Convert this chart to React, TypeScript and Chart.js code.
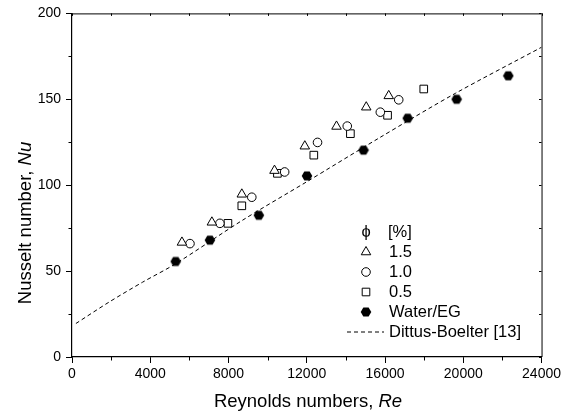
import React, { useEffect, useRef } from "react";
import { Chart, registerables } from "chart.js";
Chart.register(...registerables);

// ---- data ----
const re15 = [5620, 7150, 8680, 10350, 11900, 13520, 15040, 16190];
const nu15 = [66.7, 78.4, 94.7, 108.5, 122.7, 134.2, 145.4, 152];
const re10 = [6030, 7560, 9190, 10870, 12550, 14070, 15760, 16700];
const nu10 = [66, 77.8, 93, 107.7, 124.9, 134.4, 142.5, 149.7];
const re05 = [7970, 8680, 10500, 12360, 14230, 16130, 17980];
const nu05 = [77.8, 88, 106.9, 117.5, 130, 140.7, 156];
const reWater = [5300, 7050, 9550, 12010, 14900, 17160, 19660, 22300];
const nuWater = [55.6, 68, 82.5, 105.4, 120.4, 139, 150, 163.7];
const reDittus = [200, 1900, 3600, 5300, 8700, 12000, 15700, 19600, 24000];
const nuDittus = [19.5, 32, 43.5, 54.3, 79.5, 102, 127.5, 153.5, 180.3];

const xTicks = [0, 4000, 8000, 12000, 16000, 20000, 24000];
const xMinor = [2000, 6000, 10000, 14000, 18000, 22000];
const yTicks = [0, 50, 100, 150, 200];
const yMinor = [25, 75, 125, 175];
const legendHeader = ["\u03D5", "[%]"];
const legendLabels = ["1.5", "1.0", "0.5", "Water/EG", "Dittus-Boelter [13]"];
const xTitle = ["Reynolds numbers, ", "Re"];
const yTitle = ["Nusselt number, ", "Nu"];

const FONT = "Arial, 'Liberation Sans', sans-serif";
const TITLE_PX = 18.5;
const LEGEND_PX = 16.5;
const TICK_PX = 14;

function pts(xs: number[], ys: number[]) {
  return xs.map((x, i) => ({ x, y: ys[i] }));
}

function hexPath(ctx: CanvasRenderingContext2D, cx: number, cy: number, r: number) {
  ctx.beginPath();
  for (let i = 0; i < 6; i++) {
    const a = (Math.PI / 3) * i;
    const px = cx + r * Math.cos(a);
    const py = cy + r * Math.sin(a);
    if (i === 0) ctx.moveTo(px, py);
    else ctx.lineTo(px, py);
  }
  ctx.closePath();
}

function drawSymbol(ctx: CanvasRenderingContext2D, kind: string, x: number, y: number) {
  ctx.save();
  ctx.strokeStyle = "#000";
  ctx.fillStyle = "#fff";
  ctx.lineWidth = 1;
  if (kind === "tri") {
    const r = 5.5;
    ctx.beginPath();
    ctx.moveTo(x, y - r);
    ctx.lineTo(x + r * Math.sin(Math.PI / 3), y + r / 2);
    ctx.lineTo(x - r * Math.sin(Math.PI / 3), y + r / 2);
    ctx.closePath();
    ctx.fill();
    ctx.stroke();
  } else if (kind === "circ") {
    ctx.beginPath();
    ctx.arc(x, y, 4.3, 0, Math.PI * 2);
    ctx.fill();
    ctx.stroke();
  } else if (kind === "sq") {
    ctx.beginPath();
    ctx.rect(x - 3.8, y - 3.8, 7.6, 7.6);
    ctx.fill();
    ctx.stroke();
  } else if (kind === "hex") {
    ctx.fillStyle = "#000";
    hexPath(ctx, x, y, 5.3);
    ctx.fill();
  } else if (kind === "dash") {
    ctx.setLineDash([4, 3]);
    ctx.beginPath();
    ctx.moveTo(347, y);
    ctx.lineTo(384, y);
    ctx.stroke();
  }
  ctx.restore();
}

const decorPlugin = {
  id: "decor",
  afterDraw(chart: any) {
    const ctx: CanvasRenderingContext2D = chart.ctx;
    const { left, right, top, bottom } = chart.chartArea;
    const xs = chart.scales.x;
    const ys = chart.scales.y;
    ctx.save();
    ctx.strokeStyle = "#000";
    ctx.lineWidth = 1;
    // frame top and right
    ctx.beginPath();
    ctx.moveTo(left, top + 0.5);
    ctx.lineTo(right, top + 0.5);
    ctx.moveTo(right + 0.5, top);
    ctx.lineTo(right + 0.5, bottom);
    ctx.stroke();
    // minor ticks bottom / left (outward)
    ctx.beginPath();
    xMinor.forEach((v) => {
      const px = Math.round(xs.getPixelForValue(v)) + 0.5;
      ctx.moveTo(px, bottom);
      ctx.lineTo(px, bottom + 3.5);
    });
    yMinor.forEach((v) => {
      const py = Math.round(ys.getPixelForValue(v)) + 0.5;
      ctx.moveTo(left, py);
      ctx.lineTo(left - 3.5, py);
    });
    // inward ticks on top and right
    [...xTicks, ...xMinor].forEach((v) => {
      const px = Math.round(xs.getPixelForValue(v)) + 0.5;
      ctx.moveTo(px, top);
      ctx.lineTo(px, top + 2.5);
    });
    [...yTicks, ...yMinor].forEach((v) => {
      const py = Math.round(ys.getPixelForValue(v)) + 0.5;
      ctx.moveTo(right, py);
      ctx.lineTo(right - 2.5, py);
    });
    ctx.stroke();

    // axis titles with italic symbol
    ctx.fillStyle = "#000";
    ctx.textBaseline = "middle";
    const normal = TITLE_PX + "px " + FONT;
    const italic = "italic " + TITLE_PX + "px " + FONT;
    ctx.font = normal;
    const xw1 = ctx.measureText(xTitle[0]).width;
    ctx.font = italic;
    const xw2 = ctx.measureText(xTitle[1]).width;
    const xcx = 308;
    const sx = xcx - (xw1 + xw2) / 2;
    ctx.textAlign = "left";
    ctx.font = normal;
    ctx.fillText(xTitle[0], sx, 402);
    ctx.font = italic;
    ctx.fillText(xTitle[1], sx + xw1, 402);

    ctx.save();
    ctx.translate(26, 223);
    ctx.rotate(-Math.PI / 2);
    ctx.font = normal;
    const yw1 = ctx.measureText(yTitle[0]).width;
    ctx.font = italic;
    const yw2 = ctx.measureText(yTitle[1]).width;
    const sy = -(yw1 + yw2) / 2;
    ctx.font = normal;
    ctx.fillText(yTitle[0], sy, 0);
    ctx.font = italic;
    ctx.fillText(yTitle[1], sy + yw1, 0);
    ctx.restore();

    // legend
    const rowY = [232, 252, 272, 292, 312, 332];
    const symX = 366;
    const txtX = 389;
    const lfont = LEGEND_PX + "px " + FONT;
    ctx.font = lfont;
    ctx.textAlign = "center";
    ctx.fillText(legendHeader[0], symX, rowY[0]);
    ctx.textAlign = "left";
    ctx.fillText(legendHeader[1], txtX - 1, rowY[0]);
    const kinds = ["tri", "circ", "sq", "hex", "dash"];
    legendLabels.forEach((lab, i) => {
      drawSymbol(ctx, kinds[i], symX, rowY[i + 1]);
      ctx.fillStyle = "#000";
      ctx.font = lfont;
      ctx.textAlign = "left";
      ctx.fillText(lab, txtX, rowY[i + 1]);
    });
    ctx.restore();
  },
};

export default function App() {
  const ref = useRef<HTMLCanvasElement | null>(null);
  useEffect(() => {
    document.body.style.margin = "0";
    const hex = document.createElement("canvas");
    hex.width = 12;
    hex.height = 12;
    const hctx = hex.getContext("2d")!;
    hctx.fillStyle = "#000";
    hexPath(hctx, 6, 6, 5.3);
    hctx.fill();

    const tickFont = { family: FONT, size: TICK_PX };
    const chart = new Chart(ref.current!, {
      type: "scatter",
      data: {
        datasets: [
          {
            label: "1.5",
            data: pts(re15, nu15),
            pointStyle: "triangle",
            pointRadius: 5.5,
            borderColor: "#000",
            backgroundColor: "#fff",
            borderWidth: 1,
            order: 1,
          },
          {
            label: "1.0",
            data: pts(re10, nu10),
            pointStyle: "circle",
            pointRadius: 4.3,
            borderColor: "#000",
            backgroundColor: "#fff",
            borderWidth: 1,
            order: 1,
          },
          {
            label: "0.5",
            data: pts(re05, nu05),
            pointStyle: "rect",
            pointRadius: 5.4,
            borderColor: "#000",
            backgroundColor: "#fff",
            borderWidth: 1,
            order: 1,
          },
          {
            label: "Water/EG",
            data: pts(reWater, nuWater),
            pointStyle: hex as any,
            pointRadius: 6,
            borderColor: "#000",
            backgroundColor: "#000",
            order: 0,
          },
          {
            type: "line" as any,
            label: "Dittus-Boelter [13]",
            data: pts(reDittus, nuDittus),
            showLine: true,
            borderColor: "#000",
            borderWidth: 1,
            borderDash: [4, 3],
            pointRadius: 0,
            tension: 0.3,
            fill: false,
            order: 10,
          } as any,
        ],
      },
      options: {
        animation: false,
        responsive: false,
        devicePixelRatio: 1,
        layout: { padding: { top: 13, right: 21, left: 0, bottom: 0 } },
        plugins: { legend: { display: false }, tooltip: { enabled: false } },
        scales: {
          x: {
            type: "linear",
            min: 0,
            max: 24000,
            afterBuildTicks: (s: any) => {
              s.ticks = xTicks.map((v) => ({ value: v }));
            },
            afterFit: (s: any) => {
              s.height = 58;
            },
            ticks: {
              font: tickFont,
              color: "#000",
              padding: 3,
              maxRotation: 0,
              callback: (v: any) => String(v),
            },
            grid: { drawOnChartArea: false, tickLength: 6, color: "#000", tickWidth: 1 },
            border: { color: "#000", width: 1.2 },
          },
          y: {
            type: "linear",
            min: 0,
            max: 200,
            afterBuildTicks: (s: any) => {
              s.ticks = yTicks.map((v) => ({ value: v }));
            },
            afterFit: (s: any) => {
              s.width = 72;
            },
            ticks: { font: tickFont, color: "#000", padding: 5, callback: (v: any) => String(v) },
            grid: { drawOnChartArea: false, tickLength: 6, color: "#000", tickWidth: 1 },
            border: { color: "#000", width: 1.2 },
          },
        },
      },
      plugins: [decorPlugin],
    } as any);
    return () => chart.destroy();
  }, []);
  return (
    <div style={{ position: "absolute", left: 0, top: 0, width: 564, height: 415 }}>
      <canvas ref={ref} width={564} height={415} style={{ width: 564, height: 415 }} />
    </div>
  );
}
